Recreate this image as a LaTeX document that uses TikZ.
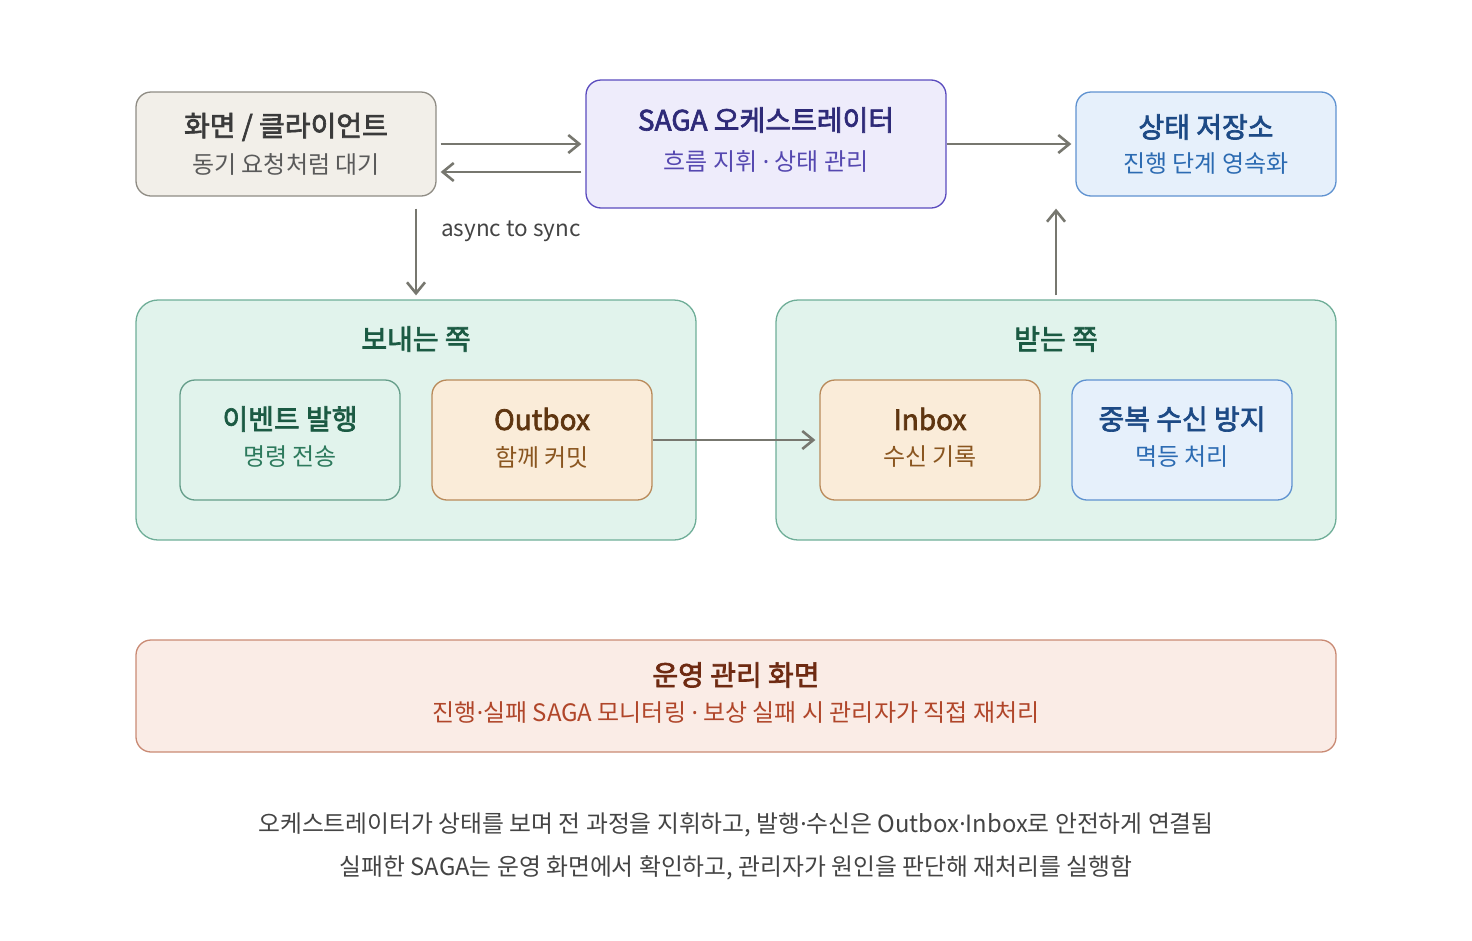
\documentclass[tikz,border=0pt]{standalone}
\usepackage{fontspec}
\setmainfont{Noto Sans CJK KR}
\newfontfamily\semib{Noto Sans CJK KR}[FakeBold=2.4]
\newfontfamily\latinf{Noto Sans}
\usetikzlibrary{arrows.meta,calc}
\definecolor{arrowgray}{HTML}{77776F}
\definecolor{clifill}{HTML}{F2EFE9}
\definecolor{clidraw}{HTML}{8F8C84}
\definecolor{clititle}{HTML}{3A3A3A}
\definecolor{clisub}{HTML}{5A5A5A}
\definecolor{sagafill}{HTML}{EEECFB}
\definecolor{sagadraw}{HTML}{5A4BBE}
\definecolor{sagatitle}{HTML}{2E2A78}
\definecolor{sagasub}{HTML}{5548B0}
\definecolor{bluefill}{HTML}{E6F0FB}
\definecolor{bluedraw}{HTML}{5F92D0}
\definecolor{bluetitle}{HTML}{1D4A85}
\definecolor{bluesub}{HTML}{2C6BB2}
\definecolor{grpfill}{HTML}{E1F3EC}
\definecolor{grpdraw}{HTML}{6FAE98}
\definecolor{grntitle}{HTML}{1B5A43}
\definecolor{grnsub}{HTML}{2D7A5D}
\definecolor{orgfill}{HTML}{FAECD9}
\definecolor{orgdraw}{HTML}{B98A5A}
\definecolor{orgtitle}{HTML}{5E3510}
\definecolor{orgsub}{HTML}{8A5620}
\definecolor{opsfill}{HTML}{FAECE6}
\definecolor{opsdraw}{HTML}{C98A74}
\definecolor{opstitle}{HTML}{6E2A12}
\definecolor{opssub}{HTML}{B0462A}
\definecolor{notegray}{HTML}{444444}
\newcommand{\ttl}{\fontsize{28pt}{32pt}\selectfont\semib}
\newcommand{\sbt}{\fontsize{24pt}{28pt}\selectfont}
\newcommand{\md}{{\latinf ·}}
\begin{document}
\begin{tikzpicture}[x=1pt,y=-1pt,
  box/.style={rectangle, rounded corners=15pt, line width=1.3pt, inner sep=0pt},
  grp/.style={rectangle, rounded corners=22pt, line width=1.3pt, fill=grpfill, draw=grpdraw, minimum width=560pt, minimum height=240pt},
  tt/.style={font=\ttl, inner sep=0pt, yshift=-2pt},
  st/.style={font=\sbt, inner sep=0pt, yshift=-2pt},
  arr/.style={draw=arrowgray, line width=2.8pt, -{Straight Barb[length=11pt,width=18pt,line width=2.6pt]}, shorten >=4pt, shorten <=4pt},
  note/.style={font=\fontsize{23.8pt}{28pt}\selectfont, text=notegray, inner sep=0pt, yshift=-2pt}
]
\useasboundingbox (0,0) rectangle (1472,940);

% top row
\node[box, fill=clifill, draw=clidraw, minimum width=300pt, minimum height=104pt] (client) at (286,144) {};
\node[tt, text=clititle] (clientt) at (286,125) {화면 / 클라이언트};
\node[st, text=clisub] (clients) at (286,162) {동기 요청처럼 대기};

\node[box, fill=sagafill, draw=sagadraw, minimum width=360pt, minimum height=128pt] (saga) at (766,144) {};
\node[tt, text=sagatitle] (sagat) at (766,118) {SAGA 오케스트레이터};
\node[st, text=sagasub] (sagas) at (766,159) {흐름 지휘 \md{} 상태 관리};

\node[box, fill=bluefill, draw=bluedraw, minimum width=260pt, minimum height=104pt] (state) at (1206,144) {};
\node[tt, text=bluetitle] (statet) at (1206,125) {상태 저장소};
\node[st, text=bluesub] (states) at (1206,162) {진행 단계 영속화};

% groups
\node[grp] (send) at (416,420) {};
\node[grp] (recv) at (1056,420) {};
\node[tt, text=grntitle] (sendt) at (416,337) {보내는 쪽};
\node[tt, text=grntitle] (recvt) at (1056,337) {받는 쪽};

\node[box, fill=grpfill, draw=grpdraw!90!black, minimum width=220pt, minimum height=120pt] (event) at (290,440) {};
\node[tt, text=grntitle] (eventt) at (290,417) {이벤트 발행};
\node[st, text=grnsub] (events) at (290,455) {명령 전송};

\node[box, fill=orgfill, draw=orgdraw, minimum width=220pt, minimum height=120pt] (outbox) at (542,440) {};
\node[tt, text=orgtitle] (outboxt) at (542,417) {Outbox};
\node[st, text=orgsub] (outboxs) at (542,455) {함께 커밋};

\node[box, fill=orgfill, draw=orgdraw, minimum width=220pt, minimum height=120pt] (inbox) at (930,440) {};
\node[tt, text=orgtitle] (inboxt) at (930,417) {Inbox};
\node[st, text=orgsub] (inboxs) at (930,455) {수신 기록};

\node[box, fill=bluefill, draw=bluedraw, minimum width=220pt, minimum height=120pt] (dedup) at (1182,440) {};
\node[tt, text=bluetitle] (dedupt) at (1182,417) {중복 수신 방지};
\node[st, text=bluesub] (dedups) at (1182,455) {멱등 처리};

% ops
\node[box, fill=opsfill, draw=opsdraw, minimum width=1200pt, minimum height=112pt] (ops) at (736,696) {};
\node[tt, text=opstitle] (opst) at (736,673) {운영 관리 화면};
\node[st, text=opssub] (opss) at (736,711) {진행\md{}실패 SAGA 모니터링 \md{} 보상 실패 시 관리자가 직접 재처리};

% notes
\node[note] (n1) at (736,823) {오케스트레이터가 상태를 보며 전 과정을 지휘하고, 발행\md{}수신은 Outbox\md{}Inbox로 안전하게 연결됨};
\node[note] (n2) at (736,866) {실패한 SAGA는 운영 화면에서 확인하고, 관리자가 원인을 판단해 재처리를 실행함};

% arrows
\draw[arr] (client.east) -- (saga.west);
\draw[arr] ([yshift=-28pt]saga.west) -- ([yshift=-28pt]client.east);
\draw[arr, shorten <=0pt] (saga.east) -- (state.west);
\draw[arr, shorten <=12pt] (send.north |- client.south) -- (send.north);
\node[note, anchor=west, font=\fontsize{22.5pt}{26pt}\selectfont] (lbl) at (441,229) {async to sync};
\draw[arr, shorten <=0pt] (outbox.east) -- (inbox.west);
\draw[arr, shorten >=12pt] (recv.north) -- (recv.north |- state.south);
\end{tikzpicture}
\end{document}
